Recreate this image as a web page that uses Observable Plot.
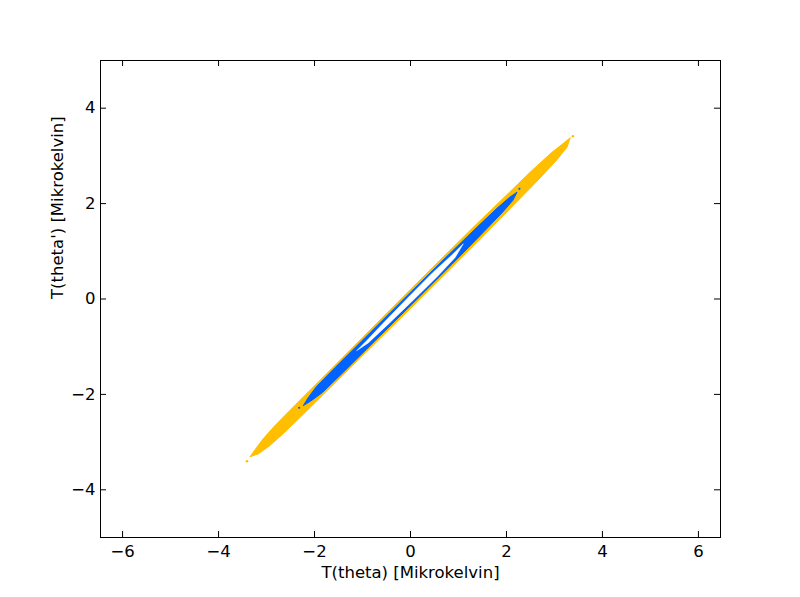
<!DOCTYPE html>
<html>
<head>
<meta charset="utf-8">
<script src="https://cdn.jsdelivr.net/npm/d3@7"></script>
<script src="https://cdn.jsdelivr.net/npm/@observablehq/plot@0.6"></script>
<style>
  html, body { margin: 0; padding: 0; background: #fff; }
  #chart { width: 800px; height: 597px; }
</style>
</head>
<body>
<div id="chart"></div>
<script>
// Tick values
const xTicks = [-6, -4, -2, 0, 2, 4, 6];
const yTicks = [-4, -2, 0, 2, 4];
const xLabel = "T(theta) [Mikrokelvin]";
const yLabel = "T(theta') [Mikrokelvin]";

// Outer (orange) point cloud outline
const orangeX = [-3.34, -3.24, -3.07, -2.835, -2.39, -1.592, -0.598, -0.1, 0.6, 1.302, 1.91, 2.518, 2.935, 3.18, 3.33,
                 3.26, 3.065, 2.682, 2.09, 1.498, 0.8, 0.1, -0.402, -1.408, -2.21, -2.665, -2.93, -3.16];
const orangeY = [-3.30, -3.16, -2.93, -2.665, -2.21, -1.408, -0.402, 0.1, 0.8, 1.498, 2.09, 2.682, 3.065, 3.26, 3.38,
                 3.18, 2.935, 2.518, 1.91, 1.302, 0.6, -0.1, -0.598, -1.592, -2.39, -2.835, -3.07, -3.24];

// Inner (blue) point cloud outline
const blueX = [-2.23, -2.132, -1.962, -1.567, -0.868, -0.07, 0.732, 1.34, 1.8, 2.067, 2.22,
               2.133, 1.9, 1.46, 0.868, 0.07, -0.732, -1.433, -1.838, -2.068];
const blueY = [-2.23, -2.068, -1.838, -1.433, -0.732, 0.07, 0.868, 1.46, 1.9, 2.133, 2.24,
               2.067, 1.8, 1.34, 0.732, -0.07, -0.868, -1.567, -1.962, -2.132];

// Empty hole inside the blue cloud
const holeX = [-1.117, -0.92, -0.532, -0.04, 0.455, 0.87, 1.10, 0.93, 0.545, 0.04, -0.468, -0.88];
const holeY = [-1.08, -0.88, -0.468, 0.04, 0.545, 0.93, 1.157, 0.87, 0.455, -0.04, -0.532, -0.92];

// Isolated points
const orangeDotX = [3.383, -3.408];
const orangeDotY = [3.413, -3.40];
const blueDotX = [2.27, -2.32];
const blueDotY = [2.31, -2.28];

const ORANGE = "#ffbf00";
const BLUE = "#0062ff";

const toPts = (xs, ys) => xs.map((x, i) => ({x, y: ys[i]}));
const orange = toPts(orangeX, orangeY);
const blue = toPts(blueX, blueY);
const hole = toPts(holeX, holeY);
const oDots = toPts(orangeDotX, orangeDotY);
const bDots = toPts(blueDotX, blueDotY);

const W = 800, H = 597;
const mL = 100, mR = 80, mT = 60, mB = 60;
const innerW = W - mL - mR, innerH = H - mT - mB;
const TL = 6;
const fmt = d => (d < 0 ? "\u2212" + Math.abs(d) : String(d));

const chart = Plot.plot({
  width: W,
  height: H,
  marginLeft: mL,
  marginRight: mR,
  marginTop: mT,
  marginBottom: mB,
  style: {fontFamily: "'DejaVu Sans', sans-serif", fontSize: "16.5px", color: "black", background: "white"},
  x: {domain: [-6.46, 6.46], ticks: xTicks, tickFormat: fmt},
  y: {domain: [-5, 5], ticks: yTicks, tickFormat: fmt},
  marks: [
    Plot.line(orange, {x: "x", y: "y", fill: ORANGE, stroke: ORANGE, strokeWidth: 1, curve: "linear-closed"}),
    Plot.line(blue, {x: "x", y: "y", fill: BLUE, stroke: BLUE, strokeWidth: 1, curve: "linear-closed"}),
    Plot.line(hole, {x: "x", y: "y", fill: "white", stroke: "white", strokeWidth: 0.5, curve: "linear-closed"}),
    Plot.dot(oDots, {x: "x", y: "y", r: 1.3, fill: ORANGE}),
    Plot.dot(bDots, {x: "x", y: "y", r: 1.1, fill: BLUE}),
    // inward ticks on all four sides
    Plot.ruleX(xTicks, {x: d => d, insetTop: innerH - TL, stroke: "black"}),
    Plot.ruleX(xTicks, {x: d => d, insetBottom: innerH - TL, stroke: "black"}),
    Plot.ruleY(yTicks, {y: d => d, insetRight: innerW - TL, stroke: "black"}),
    Plot.ruleY(yTicks, {y: d => d, insetLeft: innerW - TL, stroke: "black"}),
    Plot.axisX({anchor: "bottom", ticks: xTicks, tickFormat: fmt, tickSize: 0, tickPadding: 8, label: null, fill: "black"}),
    Plot.axisY({anchor: "left", ticks: yTicks, tickFormat: fmt, tickSize: 0, tickPadding: 5, label: null, fill: "black"}),
    Plot.frame({stroke: "black", strokeWidth: 1}),
    Plot.text([xLabel], {text: d => d, frameAnchor: "bottom", dy: 40, fill: "black"}),
    Plot.text([yLabel], {text: d => d, frameAnchor: "left", dx: -43, rotate: -90, fill: "black"})
  ]
});
document.getElementById("chart").appendChild(chart);
</script>
</body>
</html>
